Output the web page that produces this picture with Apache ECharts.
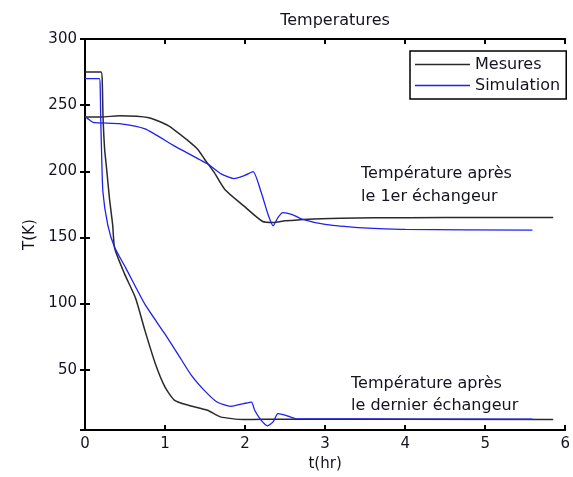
<!DOCTYPE html>
<html>
<head>
<meta charset="utf-8">
<script src="https://cdn.jsdelivr.net/npm/echarts@6/dist/echarts.min.js"></script>
<style>
html,body{margin:0;padding:0;background:#fff;}
#chart{width:573px;height:477px;}
</style>
</head>
<body>
<div id="chart"></div>
<script>
// ---- data (t in hours, T in K) ----
var mesures1T = [0, 0.2, 0.43, 0.8, 1.04, 1.29, 1.41, 1.49, 1.61, 1.75, 1.98, 2.22, 2.35, 2.5, 2.79, 3.2, 3.61, 4.5, 5.85];
var mesures1V = [241, 241, 242, 240.5, 234.5, 223, 216.5, 209.5, 199.5, 186, 174, 162, 161.3, 162.5, 163.8, 164.5, 164.8, 165, 165];

var simulation1T = [0, 0.03, 0.1, 0.43, 0.75, 1.12, 1.53, 1.7, 1.86, 2.0, 2.1, 2.2, 2.29, 2.35, 2.41, 2.47, 2.59, 2.71, 3.0, 3.37, 3.61, 4.0, 5.59];
var simulation1V = [241, 240, 237, 236, 232, 219, 205.6, 198, 194.5, 197, 199.8, 184.3, 166.8, 158.8, 165, 168.8, 167.3, 163.8, 159.8, 157.6, 156.8, 156, 155.5];

var mesures2T = [0, 0.2, 0.216, 0.225, 0.245, 0.266, 0.306, 0.346, 0.37, 0.49, 0.63, 0.75, 0.88, 1.0, 1.12, 1.29, 1.53, 1.69, 1.98, 2.22, 5.85];
var mesures2V = [275, 275, 266.8, 241.8, 216.9, 204.3, 179.3, 159.3, 142, 123, 104.3, 79.3, 54.3, 36.8, 26.8, 23.1, 19.3, 14.3, 12.3, 12.5, 12.3];

var simulation2T = [0, 0.18, 0.19, 0.196, 0.204, 0.224, 0.285, 0.367, 0.51, 0.75, 1.0, 1.16, 1.33, 1.49, 1.65, 1.82, 1.98, 2.08, 2.12, 2.2, 2.28, 2.35, 2.41, 2.51, 2.63, 5.59];
var simulation2V = [270, 270, 262.8, 241.8, 221.8, 184.3, 159.3, 143, 126.8, 99.3, 76.8, 61.8, 45.6, 34.3, 25.5, 22.3, 24.3, 25.5, 19.3, 11.8, 7.5, 10.5, 16.8, 15.5, 13, 12.5];

var xTicks = [0, 1, 2, 3, 4, 5, 6];
var yTicks = [50, 100, 150, 200, 250, 300];
var yMin = 4.3, yMax = 300;

var titleText = 'Temperatures';
var xName = 't(hr)';
var yName = 'T(K)';
var annot1 = ['Température après', 'le 1er échangeur'];
var annot2 = ['Température après', 'le dernier échangeur'];

function zip(a, b) { return a.map(function (v, i) { return [v, b[i]]; }); }

var FONT = 'DejaVu Sans';
var TXT = '#141420';
var BLACK = '#2a2a2a';
var BLUE = '#1f1ff2';

var chart = echarts.init(document.getElementById('chart'), null, {renderer: 'canvas'});

var axisLine = {show: true, lineStyle: {color: '#000', width: 2}};
var tick = {show: true, inside: true, length: 5, lineStyle: {color: '#000', width: 2}};

chart.setOption({
  animation: false,
  backgroundColor: '#fff',
  title: {
    text: titleText, left: 330, top: 8, textAlign: 'center',
    textStyle: {fontFamily: FONT, fontSize: 16, fontWeight: 'normal', color: TXT}
  },
  legend: {
    data: ['Mesures', 'Simulation'],
    orient: 'vertical', left: 410, top: 51,
    padding: [5, 6, 5, 5],
    icon: 'rect',
    itemWidth: 55, itemHeight: 1.5, itemGap: 4, itemTextGap: 2,
    backgroundColor: '#fff', borderColor: '#000', borderWidth: 1.5, borderRadius: 0,
    textStyle: {fontFamily: FONT, fontSize: 16, color: TXT, lineHeight: 17},
    selectedMode: false
  },
  grid: {left: 85, top: 39, width: 490, height: 394},
  xAxis: [{
    type: 'value', min: xTicks[0], max: xTicks[xTicks.length - 1], interval: 1,
    name: xName, nameLocation: 'middle', nameGap: 24,
    nameTextStyle: {fontFamily: FONT, fontSize: 15, color: TXT},
    axisLine: axisLine, axisTick: tick,
    axisLabel: {fontFamily: FONT, fontSize: 15, color: TXT, margin: 7},
    splitLine: {show: false}
  }, {
    type: 'value', position: 'top', min: xTicks[0], max: xTicks[xTicks.length - 1], interval: 1,
    axisLine: axisLine, axisTick: tick, axisLabel: {show: false}, splitLine: {show: false}
  }],
  yAxis: [{
    type: 'value', min: yMin, max: yMax, splitNumber: 6,
    name: yName, nameLocation: 'middle', nameGap: 47,
    nameTextStyle: {fontFamily: FONT, fontSize: 15, color: TXT},
    axisLine: axisLine, axisTick: tick,
    axisLabel: {fontFamily: FONT, fontSize: 15, color: TXT, margin: 8, showMinLabel: false,
      formatter: function (v) { return yTicks.indexOf(v) >= 0 ? String(v) : ''; }},
    splitLine: {show: false}
  }, {
    type: 'value', position: 'right', min: yMin, max: yMax, splitNumber: 6,
    axisLine: axisLine, axisTick: tick, axisLabel: {show: false}, splitLine: {show: false}
  }],
  series: [
    {name: 'Mesures', type: 'line', data: zip(mesures1T, mesures1V), symbol: 'none', smooth: 0.2,
      lineStyle: {color: BLACK, width: 1.5}, itemStyle: {color: BLACK}},
    {name: 'Mesures', type: 'line', data: zip(mesures2T, mesures2V), symbol: 'none', smooth: 0.2,
      lineStyle: {color: BLACK, width: 1.5}, itemStyle: {color: BLACK}},
    {name: 'Simulation', type: 'line', data: zip(simulation1T, simulation1V), symbol: 'none', smooth: 0.2,
      lineStyle: {color: BLUE, width: 1.3}, itemStyle: {color: BLUE}},
    {name: 'Simulation', type: 'line', data: zip(simulation2T, simulation2V), symbol: 'none', smooth: 0.2,
      lineStyle: {color: BLUE, width: 1.3}, itemStyle: {color: BLUE}}
  ],
  graphic: [
    {type: 'text', left: 361, top: 162, style: {text: annot1.join('\n'), fontFamily: FONT, fontSize: 16, lineHeight: 23, fill: TXT}},
    {type: 'text', left: 351, top: 373, style: {text: annot2.join('\n'), fontFamily: FONT, fontSize: 16, lineHeight: 22, fill: TXT}}
  ]
});
</script>
</body>
</html>
